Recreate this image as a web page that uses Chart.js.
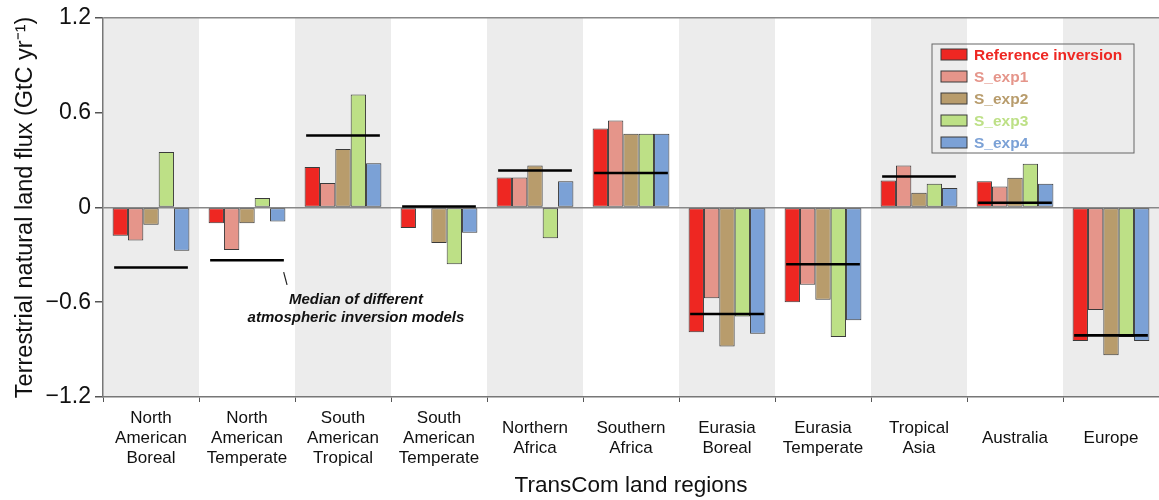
<!DOCTYPE html>
<html>
<head>
<meta charset="utf-8">
<script src="https://cdn.jsdelivr.net/npm/chart.js@4.4.1/dist/chart.umd.min.js"></script>
<style>
  body { margin: 0; background: #fff; }
  #wrap { width: 1159px; height: 500px; }
</style>
</head>
<body>
<div id="wrap"><canvas id="myChart" width="1159" height="500"></canvas></div>
<script>
// TransCom regions
const regions = [
    ['North', 'American', 'Boreal'],
    ['North', 'American', 'Temperate'],
    ['South', 'American', 'Tropical'],
    ['South', 'American', 'Temperate'],
    ['Northern', 'Africa'],
    ['Southern', 'Africa'],
    ['Eurasia', 'Boreal'],
    ['Eurasia', 'Temperate'],
    ['Tropical', 'Asia'],
    'Australia',
    'Europe'
];

// fluxes, GtC/yr
const refInversion = [-0.18, -0.10, 0.255, -0.13, 0.19, 0.50, -0.79, -0.60, 0.17, 0.165, -0.845];
const sExp1 = [-0.21, -0.27, 0.155, 0, 0.19, 0.55, -0.575, -0.49, 0.265, 0.133, -0.65];
const sExp2 = [-0.11, -0.10, 0.37, -0.225, 0.265, 0.466, -0.88, -0.585, 0.093, 0.188, -0.935];
const sExp3 = [0.35, 0.06, 0.715, -0.36, -0.195, 0.466, -0.69, -0.82, 0.15, 0.276, -0.82];
const sExp4 = [-0.275, -0.09, 0.28, -0.16, 0.165, 0.466, -0.80, -0.715, 0.122, 0.15, -0.845];
const medianInv = [-0.38, -0.335, 0.455, 0.005, 0.233, 0.218, -0.675, -0.36, 0.196, 0.03, -0.81];

const yTicks = [-1.2, -0.6, 0, 0.6, 1.2];

const FONT = "'Liberation Sans', Arial, Helvetica, sans-serif";
const barBorder = '#3a3a3a';

// grey bands behind every other region
const bandsPlugin = {
    id: 'bands',
    beforeDraw: function (chart) {
        const ctx = chart.ctx;
        const area = chart.chartArea;
        const x = chart.scales.x;
        ctx.save();
        ctx.fillStyle = '#ececec';
        for (let i = 0; i < regions.length; i += 2) {
            const l = x.getPixelForValue(i - 0.5);
            const r = x.getPixelForValue(i + 0.5);
            ctx.fillRect(l, area.top, r - l, area.bottom - area.top);
        }
        ctx.restore();
    }
};

// boxed legend + median annotation
const extrasPlugin = {
    id: 'extras',
    afterDatasetsDraw: function (chart) {
        const ctx = chart.ctx;
        const x = chart.scales.x;
        const y = chart.scales.y;
        ctx.save();

        // legend
        ctx.strokeStyle = '#666';
        ctx.lineWidth = 1;
        ctx.strokeRect(932, 44, 202, 109);
        ctx.font = 'bold 15.5px ' + FONT;
        ctx.textBaseline = 'middle';
        ctx.textAlign = 'left';
        chart.data.datasets.forEach(function (ds, i) {
            if (ds.label === 'Median') return;
            const cy = 54.5 + i * 22;
            ctx.fillStyle = ds.backgroundColor;
            ctx.fillRect(941, cy - 5.5, 26, 11);
            ctx.strokeStyle = barBorder;
            ctx.strokeRect(941, cy - 5.5, 26, 11);
            ctx.fillStyle = ds.backgroundColor;
            ctx.fillText(ds.label, 974, cy + 1);
        });

        // annotation
        ctx.strokeStyle = '#222';
        ctx.lineWidth = 1.2;
        ctx.beginPath();
        ctx.moveTo(x.getPixelForValue(1.382), y.getPixelForValue(-0.41));
        ctx.lineTo(x.getPixelForValue(1.417), y.getPixelForValue(-0.49));
        ctx.stroke();
        ctx.fillStyle = '#111';
        ctx.textAlign = 'center';
        ctx.font = 'italic bold 15px ' + FONT;
        ctx.fillText('Median of different', x.getPixelForValue(2.135), y.getPixelForValue(-0.585));
        ctx.fillText('atmospheric inversion models', x.getPixelForValue(2.135), y.getPixelForValue(-0.7));
        ctx.restore();
    }
};

function bars(label, data, color) {
    return {
        label: label,
        data: data,
        backgroundColor: color,
        borderColor: barBorder,
        borderWidth: 1,
        borderSkipped: false,
        categoryPercentage: 0.8,
        barPercentage: 1.0,
        order: 1
    };
}

const ctx = document.getElementById('myChart');

new Chart(ctx, {
    type: 'bar',
    data: {
        labels: regions,
        datasets: [
            bars('Reference inversion', refInversion, '#ee2722'),
            bars('S_exp1', sExp1, '#e5958a'),
            bars('S_exp2', sExp2, '#b89c6c'),
            bars('S_exp3', sExp3, '#bde086'),
            bars('S_exp4', sExp4, '#7ba1d6'),
            {
                label: 'Median',
                data: medianInv.map(function (m) { return [m - 0.008, m + 0.008]; }),
                backgroundColor: '#000',
                borderWidth: 0,
                grouped: false,
                categoryPercentage: 0.8,
                barPercentage: 0.96,
                order: 0
            }
        ]
    },
    plugins: [bandsPlugin, extrasPlugin],
    options: {
        responsive: false,
        animation: false,
        devicePixelRatio: 1,
        layout: { padding: { top: 17, right: 0, left: 0, bottom: 0 } },
        plugins: {
            legend: { display: false },
            tooltip: { enabled: false }
        },
        scales: {
            x: {
                grid: {
                    offset: true,
                    drawOnChartArea: false,
                    tickLength: 5,
                    color: '#555'
                },
                border: { color: '#777', width: 1.5 },
                ticks: {
                    color: '#111',
                    font: { family: FONT, size: 17, lineHeight: 1.18 },
                    padding: 16,
                    maxRotation: 0,
                    autoSkip: false,
                    crossAlign: 'center'
                },
                title: {
                    display: true,
                    text: 'TransCom land regions',
                    color: '#111',
                    font: { family: FONT, size: 22.5 },
                    padding: { top: 4, bottom: 1 }
                },
                afterFit: function (scale) { scale.height = 103; }
            },
            y: {
                min: -1.2,
                max: 1.2,
                afterBuildTicks: function (scale) {
                    scale.ticks = yTicks.map(function (v) { return { value: v }; });
                },
                grid: {
                    color: function (c) {
                        if (c.tick && (c.tick.value === 0 || c.tick.value === 1.2)) return '#888';
                        return 'rgba(0,0,0,0)';
                    },
                    lineWidth: 1.5,
                    tickColor: '#555',
                    tickLength: 8
                },
                border: { color: '#777', width: 1.5 },
                ticks: {
                    color: '#111',
                    font: { family: FONT, size: 23 },
                    padding: 4,
                    callback: function (v) {
                        if (v === 0) return '0';
                        return (v < 0 ? '\u2212' : '') + Math.abs(v).toFixed(1);
                    }
                },
                title: {
                    display: true,
                    text: 'Terrestrial natural land flux (GtC yr\u207B\u00B9)',
                    color: '#111',
                    font: { family: FONT, size: 23.5 },
                    padding: { top: 11, bottom: 0 }
                },
                afterFit: function (scale) { scale.width = 103; }
            }
        }
    }
});
</script>
</body>
</html>
